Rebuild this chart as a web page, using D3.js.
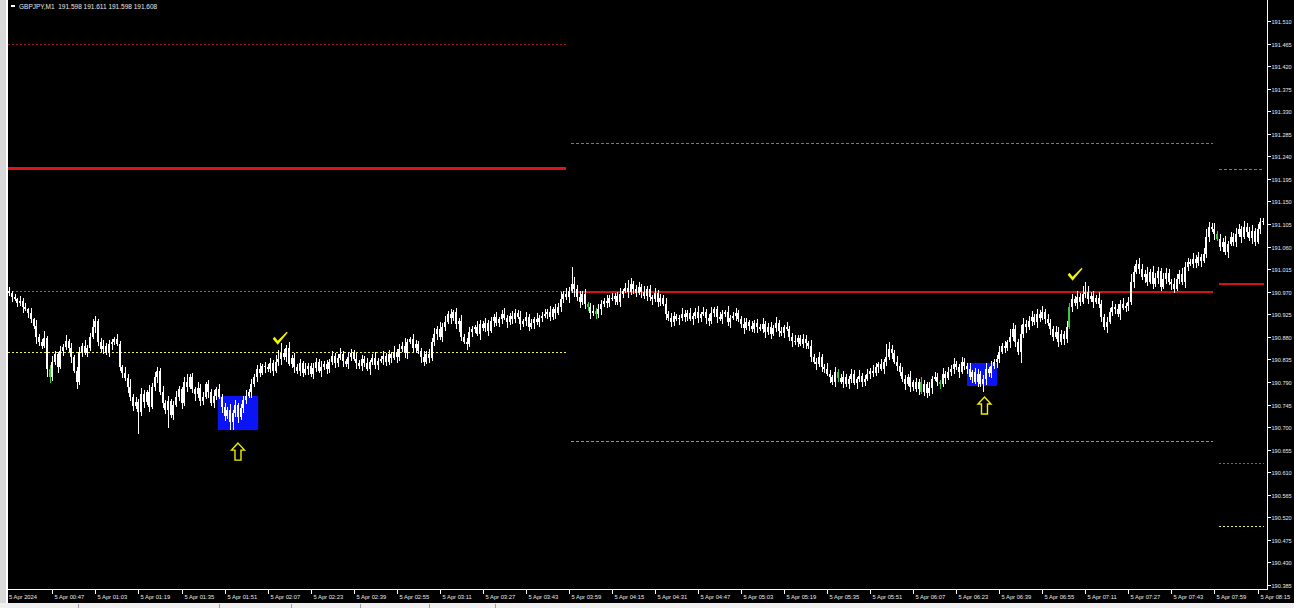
<!DOCTYPE html>
<html>
<head>
<meta charset="utf-8">
<script src="https://cdn.jsdelivr.net/npm/d3@7"></script>
<style>
  html, body { margin: 0; padding: 0; background: #000; overflow: hidden; }
  svg { display: block; }
  text { font-family: "Liberation Sans", Arial, sans-serif; }
</style>
</head>
<body>
<svg id="chart" width="1294" height="608"></svg>
<script>
/****************** data ******************/
var symbolTitle = "GBPJPY,M1  191.598 191.611 191.598 191.608";

// closes in points above 190.000 (one candle per minute, from 00:31)
var closePts = [
  968,960, 955,948,952,940, 935,928,915,902, 880,870, 862,878, 815,800,
  830,845,820,852, 860,872,858, 840,812,790, 850,862,848,858, 880,900,912,
  870,855,862,848,866, 870,875,866, 820,808,798, 780,760,742,750,730,
  765,750,770,740,780, 800,812, 770,748,735,752,725,745, 760,775,748,
  790,780,800,776, 765,778,752,760,785,770,748,762,775,
  760,740,722,735,710,728,745,720,738,755, 762,770,785, 800,815,808,822,
  820,815,828,812,830,835, 848,840,858,825,838,
  820,812,828,808,815,822,806,818,830,812,820,826,816,
  830,842,828,838,845,832,825,840,848,835,828,
  822,835,828,815,830,838,824,832, 836,842,830,845,838,850,840,
  855,862,848,870,875,858,865,852, 840,830,845,838, 870,885,895,880,900,
  910,925,918,930,905,912, 880,870,865, 890,895,900,885,905,898,908,892,
  912,920,908,915,925,918,910,922,916,928,920,
  905,912,920,900,908,915,910,918,922, 925,930,920,935,928,940,
  955,965,960,972, 985,975, 960,950,965,945,940, 928,932,925,935,
  945,952,948,958,955,962,950, 965,972,978,970,985,975,968,980,
  970,962,975,960,955,968,950,958,945, 925,918,910,922,915,
  918,925,920,928,915,922,930,918,
  925,930,918,912,928,935,920,915,925,930,910,918,922,928,915,
  905,898,910,902,895,908,900, 895,905,890,900,885,898,908,892,888,900,895,
  880,872,870,878,865,875,868,862, 840,830,825,840,820,
  815,805,800,790,810,798, 790,800,785,795,805,788,795,802,790,796,805,
  812,808,820,825,815,830, 840,855,848,830,822, 810,795,785,800,780,790,
  775,790,770,785,768,778,795, 800,790,785,805,798,810,
  815,825,820,810,830,822,815, 800,810,790,805,785,795,815,808,822,830,835,
  850,862,858,870, 880,895,870,850,885,905,900,912,
  920,910,925,918,930,915,908, 895,880,890,870,885,875,900,
  940,955,948,960,950,965, 970,955,962,950,958,945, 920,900,910,
  930,940,935,925,945,938,942,950, 990,1010,1025,1015,1000,
  1005,990,1010,985,998,1012,980,995,1008,990, 985,975,995,1005,990,
  1020,1030,1025,1035,1028,1040,1032,1045, 1080,1100,1095,
  1085,1075,1060,1070,1050,1065,1080,1070, 1085,1095,1080,1100,1090,1078,1092,
  1070,1095,1110,1112
];

// wick lengths in points (above the body / below the body)
var wickUpPts = [
  8,4,6,2,10,5,7,3,9,2,12,5,6,14,4,9,12,6,4,10,
  6,12,4,9,3,7,10,5,12,6,8,16,10,4,7,12,5,8,6,4,
  10,6,4,12,8,15,5,10,6,12,8,4,14,7,10,8,5,12,6,10,
  4,8,12,6,5,10,16,6,8,4,12,7,10,5,8,6,12,5,10,6,
  8,5,12,6,10,4,8,6,12,5,10,6,8,12,4,8,6,10,5,14,
  18,20,8,6,12,5,10,6,8,4,12,6,5,10,8,6,12,5,8,6,
  10,5,8,12,6,4,10,8,6,12,5,8,6,10,4,8,12,6,5,10,
  6,8,4,12,6,10,8,15,6,4,10,8,6,5,12,6,10,8,12,6,
  15,8,12,6,10,4,8,6,12,5,8,10,6,4,12,8,6,10,5,8,
  6,10,4,8,12,6,5,10,8,6,12,4,10,6,8,5,12,6,8,10,
  6,12,5,10,8,15,6,12,8,35,14,8,12,6,10,5,8,12,6,10,
  8,6,12,5,10,6,8,12,4,10,15,12,6,8,10,5,12,6,8,4,
  10,6,8,5,12,6,10,8,4,6,12,8,5,10,6,8,12,4,10,6,
  8,12,5,6,10,8,4,12,6,8,10,5,6,12,8,4,10,6,8,5,
  12,6,8,10,5,12,6,8,4,10,6,8,12,5,6,10,8,4,12,6,
  8,10,5,6,12,8,4,10,6,8,12,5,6,10,8,4,12,6,8,10,
  6,12,8,5,10,6,26,14,8,6,12,5,10,8,6,12,4,8,6,10,
  8,5,12,6,10,8,4,12,6,10,8,12,6,5,10,8,6,12,4,8,
  10,6,8,12,5,10,6,8,12,6,10,4,15,12,8,6,18,12,8,10,
  12,6,10,8,12,5,10,8,6,12,10,8,6,12,8,10,6,12,8,16,
  20,12,8,10,6,12,8,6,10,8,12,6,10,8,12,6,10,15,12,8,
  12,10,8,15,6,12,10,8,6,12,10,8,6,12,10,8,12,10,8,6,
  12,8,10,6,12,15,10,8,12,6,10,8,12,6,10,8,12,10,6,12,
  8,10,12,6,10,8,6
];

var wickDnPts = [
  6,10,4,8,6,12,4,10,8,6,15,8,6,4,15,12,8,6,12,4,
  10,6,8,12,4,14,6,10,4,8,6,4,12,8,6,10,4,8,12,6,
  4,8,10,6,12,8,10,6,44,8,12,6,10,4,8,12,6,10,8,37,
  6,10,4,8,12,6,10,4,8,12,6,10,8,4,12,6,10,8,4,12,
  10,6,15,16,8,12,6,10,8,4,12,6,10,8,4,12,6,8,10,4,
  8,12,6,10,4,8,12,6,10,8,4,12,6,10,8,4,12,6,10,8,
  6,10,8,4,12,6,10,8,4,12,6,10,8,4,12,6,8,10,4,12,
  8,6,10,4,12,8,6,10,12,4,8,10,6,12,8,4,10,6,8,12,
  6,10,8,4,12,6,10,15,8,4,12,6,10,8,4,12,6,8,10,4,
  12,6,8,10,4,12,6,10,8,4,12,6,10,8,4,12,6,10,8,4,
  10,8,6,12,4,10,8,6,12,4,15,8,12,6,10,8,12,6,10,8,
  12,6,10,8,4,12,6,10,8,4,12,6,10,8,4,12,6,10,8,12,
  6,10,8,4,12,6,10,8,4,12,6,10,8,4,12,6,10,8,4,12,
  10,6,8,12,4,10,6,8,12,4,10,6,8,12,4,10,6,8,12,4,
  8,12,6,10,4,8,12,6,10,4,8,12,6,10,4,8,12,6,10,4,
  12,6,10,8,4,12,6,10,8,4,12,6,10,8,4,12,6,10,8,4,
  10,8,6,12,4,10,8,6,12,4,10,8,6,12,4,10,8,6,12,4,
  8,10,6,12,4,8,10,6,12,4,8,10,6,12,4,8,10,6,12,4,
  10,6,15,12,8,10,6,12,8,4,10,6,12,8,10,6,22,8,12,6,
  10,6,12,8,4,10,6,12,8,4,10,6,12,8,4,10,6,12,8,4,
  8,10,6,12,4,8,10,6,12,4,8,10,6,12,4,8,10,6,12,4,
  10,6,12,8,4,10,6,12,8,4,10,6,12,8,4,10,6,12,8,4,
  8,10,6,12,4,8,10,6,12,4,8,10,6,12,4,8,10,6,12,4,
  10,6,12,8,4,10,6
];

// candles drawn in the "up" colour
var greenIdx = [15, 215, 218, 308, 339, 346, 394, 449];

// price scale labels
var priceTicks = [
  "191.510","191.465","191.420","191.375","191.330","191.285","191.240",
  "191.195","191.150","191.105","191.060","191.015","190.970","190.925",
  "190.880","190.835","190.790","190.745","190.700","190.655","190.610",
  "190.565","190.520","190.475","190.430","190.385"
];

// time scale: label every 16 bars
var timeTickIdx = [0,16,32,48,64,80,96,112,128,144,160,176,192,208,224,
  240,256,272,288,304,320,336,352,368,384,400,416,432,448,464];
var timeTickLabels = [
  "5 Apr 2024","5 Apr 00:47","5 Apr 01:03","5 Apr 01:19","5 Apr 01:35",
  "5 Apr 01:51","5 Apr 02:07","5 Apr 02:23","5 Apr 02:39","5 Apr 02:55",
  "5 Apr 03:11","5 Apr 03:27","5 Apr 03:43","5 Apr 03:59","5 Apr 04:15",
  "5 Apr 04:31","5 Apr 04:47","5 Apr 05:03","5 Apr 05:19","5 Apr 05:35",
  "5 Apr 05:51","5 Apr 06:07","5 Apr 06:23","5 Apr 06:39","5 Apr 06:55",
  "5 Apr 07:11","5 Apr 07:27","5 Apr 07:43","5 Apr 07:59","5 Apr 08:15"
];

// session levels: [startBar, endBar]
var sessions = [[0, 207.4], [209.3, 448], [450.2, 467]];
var session1Levels = [191.465, 191.217, 190.971, 190.850];
var session2Levels = [191.267, 190.969, 190.672];
var session3Levels = [191.215, 190.985, 190.628, 190.503];
var session1Kinds = ["maroon", "redThick", "blue", "yellow"];
var session2Kinds = ["magenta", "red", "cyan"];
var session3Kinds = ["magenta", "red", "blue", "yellow"];

// signal zones: [fromBar, toBar, lowPrice, highPrice]
var zones = [[78, 93, 190.694, 190.762], [356.5, 367.7, 190.782, 190.828]];
// arrows [bar, price at tip], checks [bar, price]
var arrowMarks = [[85, 190.668], [362.5, 190.760]];
var checkMarks = [[100.5, 190.872], [396, 191.000]];

/****************** styles ******************/
var levelStyle = {
  maroon:   { color: "#a01c1c", width: 1, dash: "2,2" },
  redThick: { color: "#e01414", width: 3, dash: null },
  red:      { color: "#d41414", width: 2, dash: null },
  blue:     { color: "#3f6ee6", width: 1, dash: "2,2" },
  yellow:   { color: "#f0f050", width: 1, dash: "2,2" },
  magenta:  { color: "#d23cd2", width: 1, dash: "3,2" },
  cyan:     { color: "#3cb4dc", width: 1, dash: "3,2" }
};

/****************** drawing ******************/
var svg = d3.select("#chart");
var W = 1294, H = 608;
var left = 8, right = 1267, bottom = 589;

svg.append("rect").attr("width", W).attr("height", H).attr("fill", "#000");

var candles = closePts.map(function(c, i) {
  var o = i == 0 ? c + 4 : closePts[i - 1];
  var top = Math.max(o, c), bot = Math.min(o, c);
  return {
    i: i,
    open: 190 + o / 1000,
    close: 190 + c / 1000,
    high: 190 + (top + (wickUpPts[i] || 0)) / 1000,
    low: 190 + (bot - (wickDnPts[i] || 0)) / 1000
  };
});

var xScale = d3.scaleLinear().domain([0, 467]).range([left, left + 467 * 2.69]);
var yScale = d3.scaleLinear().domain([190.385, 191.510]).range([585, 21]);
function cx(i) { return xScale(i + 0.5); }

var plot = svg.append("g");
plot.append("clipPath").attr("id", "clip")
  .append("rect").attr("x", left).attr("y", 0)
  .attr("width", right - left).attr("height", bottom);
var g = plot.append("g").attr("clip-path", "url(#clip)");

// level lines
[session1Levels, session2Levels, session3Levels].forEach(function(levels, s) {
  var kinds = [session1Kinds, session2Kinds, session3Kinds][s];
  levels.forEach(function(p, k) {
    var st = levelStyle[kinds[k]];
    var yy = Math.round(yScale(p)) + (st.width % 2 ? 0.5 : 0);
    g.append("line")
      .attr("x1", xScale(sessions[s][0])).attr("x2", xScale(sessions[s][1]))
      .attr("y1", yy).attr("y2", yy)
      .attr("stroke", st.color)
      .attr("stroke-width", st.width)
      .attr("shape-rendering", "crispEdges")
      .attr("stroke-dasharray", st.dash);
  });
});

// zones
g.selectAll(".zone").data(zones).enter().append("rect")
  .attr("class", "zone")
  .attr("x", function(d) { return xScale(d[0]); })
  .attr("width", function(d) { return xScale(d[1]) - xScale(d[0]); })
  .attr("y", function(d) { return yScale(d[3]); })
  .attr("height", function(d) { return yScale(d[2]) - yScale(d[3]); })
  .attr("fill", "#0a14f5");

// candles
var isGreen = {};
greenIdx.forEach(function(k) { isGreen[k] = true; });
var cg = g.append("g").attr("shape-rendering", "crispEdges");
cg.selectAll(".wick").data(candles).enter().append("rect")
  .attr("class", "wick")
  .attr("x", function(d) { return Math.round(cx(d.i)); })
  .attr("width", 1)
  .attr("y", function(d) { return yScale(d.high); })
  .attr("height", function(d) { return Math.max(1, yScale(d.low) - yScale(d.high)); })
  .attr("fill", function(d) { return isGreen[d.i] ? "#3cc83c" : "#fff"; });
cg.selectAll(".body").data(candles).enter().append("rect")
  .attr("class", "body")
  .attr("x", function(d) { return Math.round(cx(d.i)) - 1; })
  .attr("width", 2)
  .attr("y", function(d) { return yScale(Math.max(d.open, d.close)); })
  .attr("height", function(d) { return Math.max(1, Math.abs(yScale(d.open) - yScale(d.close))); })
  .attr("fill", function(d) { return isGreen[d.i] ? "#3cc83c" : "#fff"; });

// up arrows (outline)
g.selectAll(".arrow").data(arrowMarks).enter().append("path")
  .attr("class", "arrow")
  .attr("transform", function(d) { return "translate(" + cx(d[0]) + "," + yScale(d[1]) + ")"; })
  .attr("d", "M0,0 L6.5,7 L3,7 L3,17 L-3,17 L-3,7 L-6.5,7 Z")
  .attr("fill", "none").attr("stroke", "#f0f000").attr("stroke-width", 1.4);

// check marks
g.selectAll(".check").data(checkMarks).enter().append("path")
  .attr("class", "check")
  .attr("transform", function(d) { return "translate(" + cx(d[0]) + "," + yScale(d[1]) + ")"; })
  .attr("d", "M-7,-2 L-5,-4 L-2,0 L7,-9 L8,-8 L-2,4 Z")
  .attr("fill", "#f2f20a");

// axes frame
svg.append("line").attr("x1", right + 0.5).attr("x2", right + 0.5)
  .attr("y1", 0).attr("y2", bottom + 1).attr("stroke", "#fff");
svg.append("line").attr("x1", left).attr("x2", right + 1)
  .attr("y1", bottom + 0.5).attr("y2", bottom + 0.5).attr("stroke", "#fff");

// price axis
var pa = svg.append("g");
priceTicks.forEach(function(t) {
  var yy = Math.round(yScale(+t)) + 0.5;
  pa.append("line").attr("x1", right).attr("x2", right + 4)
    .attr("y1", yy).attr("y2", yy).attr("stroke", "#fff");
  pa.append("text").attr("x", right + 4.5).attr("y", yy + 2.2)
    .attr("fill", "#e8e8e8").attr("font-size", "5.6px")
    .text(t);
});

// time axis
var ta = svg.append("g");
timeTickIdx.forEach(function(k, n) {
  var xx = Math.round(cx(k)) + 0.5;
  if (n > 0) {
    ta.append("line").attr("x1", xx).attr("x2", xx)
      .attr("y1", bottom).attr("y2", bottom + 5).attr("stroke", "#fff");
  }
  ta.append("text").attr("x", n == 0 ? left + 1 : xx + 2).attr("y", bottom + 10)
    .attr("fill", "#e8e8e8").attr("font-size", "5.8px")
    .text(timeTickLabels[n]);
});

// title
svg.append("rect").attr("x", 11).attr("y", 5).attr("width", 4).attr("height", 2).attr("fill", "#fff");
svg.append("text").attr("x", 19).attr("y", 9)
  .attr("fill", "#e8e8e8").attr("font-size", "6.5px")
  .attr("xml:space", "preserve").text(symbolTitle);

// window chrome: left strip and bottom tab bar
svg.append("rect").attr("x", 0).attr("y", 0).attr("width", 6).attr("height", H).attr("fill", "#d9d9d9");
svg.append("rect").attr("x", 6).attr("y", 0).attr("width", 2).attr("height", H).attr("fill", "#fff");
svg.append("rect").attr("x", 0).attr("y", 603).attr("width", W).attr("height", 5).attr("fill", "#f0f0f0");
[26, 73, 97, 120, 143, 165].forEach(function(tx) {
  svg.append("line").attr("x1", tx * 3 + 0.5).attr("x2", tx * 3 + 0.5)
    .attr("y1", 604).attr("y2", 608).attr("stroke", "#a0a0a0");
});
</script>
</body>
</html>
